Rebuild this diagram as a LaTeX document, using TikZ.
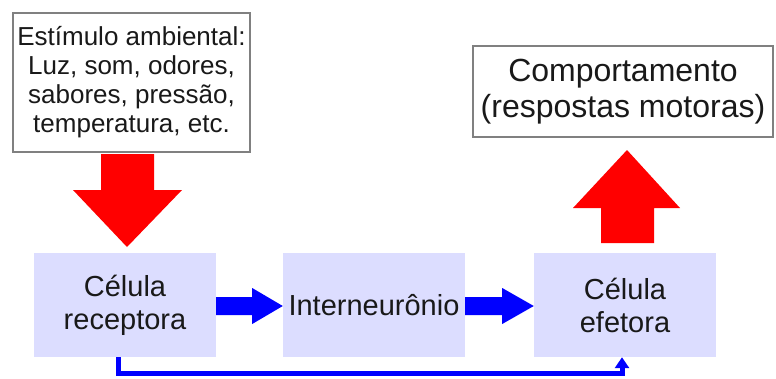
\documentclass[tikz,border=0pt]{standalone}
\usepackage{fontspec}
\setmainfont{Liberation Sans}
\usetikzlibrary{arrows.meta,calc}
\definecolor{boxfill}{RGB}{220,221,255}
\definecolor{framecol}{RGB}{128,128,128}
\definecolor{txt}{RGB}{25,25,25}
\begin{document}
\begin{tikzpicture}[x=1pt,y=-1pt,
  cell/.style={fill=boxfill, minimum width=182pt, minimum height=104pt, inner sep=0pt,
    align=center, font=\fontsize{29}{33}\selectfont, text=txt},
  framebox/.style={draw=framecol, line width=1.5pt, fill=white, inner sep=0pt,
    align=center, text=txt},
  bigred/.style={fill=red, draw=none},
  bigblue/.style={fill=blue, draw=none},
  link/.style={draw=blue, line width=5pt, -{Triangle[width=14pt,length=11pt]}}]
\useasboundingbox[fill=white] (0,0) rectangle (776,378);

\node[framebox, minimum width=237pt, minimum height=139pt,
  font=\fontsize{26}{29}\selectfont] (stim) at (131.5,82.5)
  {Estímulo ambiental:\\Luz, som, odores,\\sabores, pressão,\\temperatura, etc.};
\node[framebox, minimum width=300pt, minimum height=91pt,
  font=\fontsize{32}{36}\selectfont] (comp) at (623,91.5)
  {Comportamento\\(respostas motoras)};

\node[cell] (rec) at (125,305) {Célula\\receptora};
\node[cell] (inter) at (374,305) {Interneurônio};
\node[cell] (efe) at (625,305) {Célula\\efetora};

% red stimulus arrow
\fill[bigred] (101,154) -- (154,154) -- (154,190) -- (182,190) -- (127,247)
  -- (73,190) -- (101,190) -- cycle;
% red behaviour arrow
\fill[bigred] (601,243) -- (654,243) -- (654,208) -- (680,208) -- (627,150)
  -- (573,208) -- (601,208) -- cycle;

% blue arrows between cells
\fill[bigblue] ($(rec.east)+(0,-8)$) -- ++(36,0) -- ++(0,-9) -- ($(inter.west)+(0,1)$)
  -- ($(rec.east)+(36,19)$) -- ++(0,-9) -- ($(rec.east)+(0,10)$) -- cycle;
\fill[bigblue] ($(inter.east)+(0,-8)$) -- ++(37,0) -- ++(0,-9) -- ($(efe.west)+(0,1)$)
  -- ($(inter.east)+(37,19)$) -- ++(0,-9) -- ($(inter.east)+(0,10)$) -- cycle;

% reflex connector
\draw[link] ($(rec.south)+(-7,0)$) -- ++(0,16) -| ($(efe.south)+(-3,0)$);
\end{tikzpicture}
\end{document}
